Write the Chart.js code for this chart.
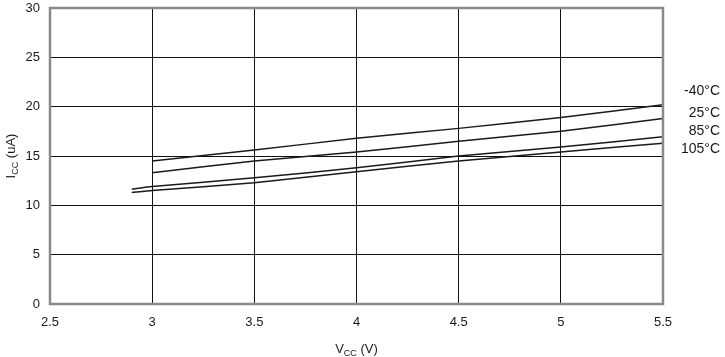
<!DOCTYPE html>
<html>
<head>
<meta charset="utf-8">
<script src="https://cdn.jsdelivr.net/npm/chart.js@4/dist/chart.umd.min.js"></script>
<style>
  html, body { margin: 0; padding: 0; background: #fff; }
  #wrap { width: 725px; height: 357px; position: relative; }
</style>
</head>
<body>
<div id="wrap"><canvas id="c" width="725" height="357"></canvas></div>
<script>
// Data
const vcc = [2.9, 3.0, 3.5, 4.0, 4.5, 5.0, 5.5];
const icc_m40 = [null, 14.5, 15.6, 16.8, 17.8, 18.9, 20.2];
const icc_25  = [null, 13.3, 14.5, 15.4, 16.5, 17.5, 18.8];
const icc_85  = [11.65, 11.9, 12.8, 13.8, 15.0, 15.9, 16.95];
const icc_105 = [11.3, 11.5, 12.3, 13.4, 14.5, 15.4, 16.3];
const seriesLabels = ['-40°C', '25°C', '85°C', '105°C'];
const xTicks = [2.5, 3, 3.5, 4, 4.5, 5, 5.5];
const yTicks = [0, 5, 10, 15, 20, 25, 30];

const allSeries = [icc_m40, icc_25, icc_85, icc_105];
const FONT = '"Liberation Sans", Arial, sans-serif';

function toPoints(ys) {
  const pts = [];
  ys.forEach((y, i) => { if (y !== null) pts.push({ x: vcc[i], y: y }); });
  return pts;
}

const datasets = allSeries.map((s, i) => ({
  label: seriesLabels[i],
  data: toPoints(s),
  borderColor: '#1a1a1a',
  borderWidth: 1.5,
  pointRadius: 0,
  tension: 0.2,
  fill: false
}));

const decor = {
  id: 'decor',
  afterDraw(chart) {
    const ctx = chart.ctx;
    const a = chart.chartArea;
    ctx.save();
    // grey frame
    ctx.strokeStyle = '#8a8a8a';
    ctx.lineWidth = 2.5;
    ctx.strokeRect(a.left, a.top, a.right - a.left, a.bottom - a.top);
    // series end labels
    ctx.fillStyle = '#1a1a1a';
    ctx.font = '14px ' + FONT;
    ctx.textAlign = 'right';
    ctx.textBaseline = 'middle';
    const labelY = [91.5, 113, 131, 149.5];
    seriesLabels.forEach((l, i) => ctx.fillText(l, 720, labelY[i]));
    // axis titles with subscript
    function subTitle(main, sub, rest, cx, cy) {
      ctx.textBaseline = 'alphabetic';
      ctx.textAlign = 'left';
      ctx.font = '13px ' + FONT;
      const w1 = ctx.measureText(main).width;
      const w3 = ctx.measureText(rest).width;
      ctx.font = '9px ' + FONT;
      const w2 = ctx.measureText(sub).width;
      const total = w1 + w2 + w3;
      let x = cx - total / 2;
      ctx.font = '13px ' + FONT;
      ctx.fillText(main, x, cy);
      x += w1;
      ctx.font = '9px ' + FONT;
      ctx.fillText(sub, x, cy + 3);
      x += w2;
      ctx.font = '13px ' + FONT;
      ctx.fillText(rest, x, cy);
    }
    subTitle('V', 'CC', ' (V)', (a.left + a.right) / 2, 353);
    ctx.save();
    ctx.translate(15, (a.top + a.bottom) / 2);
    ctx.rotate(-Math.PI / 2);
    subTitle('I', 'CC', ' (uA)', 0, 0);
    ctx.restore();
    ctx.restore();
  }
};

new Chart(document.getElementById('c'), {
  type: 'line',
  data: { datasets },
  options: {
    responsive: false,
    animation: false,
    devicePixelRatio: 1,
    layout: { padding: { left: 0, top: 8, right: 62, bottom: 0 } },
    plugins: { legend: { display: false }, tooltip: { enabled: false } },
    scales: {
      x: {
        type: 'linear',
        min: 2.5, max: 5.5,
        afterBuildTicks: (s) => { s.ticks = xTicks.map(v => ({ value: v })); },
        afterFit: (s) => { s.height = 53; s.paddingLeft = 0; s.paddingRight = 0; },
        grid: { color: '#111', lineWidth: 1, drawTicks: false },
        border: { display: false },
        ticks: { padding: 11, color: '#1a1a1a', font: { family: FONT, size: 13 }, maxRotation: 0,
                 callback: (v) => String(v) }
      },
      y: {
        type: 'linear',
        min: 0, max: 30,
        afterBuildTicks: (s) => { s.ticks = yTicks.map(v => ({ value: v })); },
        afterFit: (s) => { s.width = 50; s.paddingTop = 0; s.paddingBottom = 0; },
        grid: { color: '#111', lineWidth: 1, drawTicks: false },
        border: { display: false },
        ticks: { padding: 10, color: '#1a1a1a', font: { family: FONT, size: 13 },
                 callback: (v) => String(v) }
      }
    }
  },
  plugins: [decor]
});
</script>
</body>
</html>
